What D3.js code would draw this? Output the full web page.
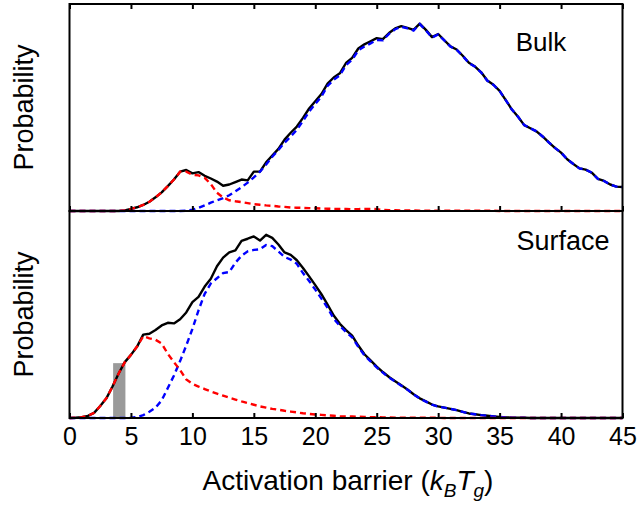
<!DOCTYPE html>
<html>
<head>
<meta charset="utf-8">
<script src="https://cdn.jsdelivr.net/npm/d3@7"></script>
<style>
  html, body { margin: 0; padding: 0; background: #fff; }
  svg { display: block; }
  text { font-family: "Liberation Sans", Arial, Helvetica, sans-serif; fill: #000; }
</style>
</head>
<body>
<svg id="chart" width="639" height="505"></svg>
<script>
// Activation barrier grid (k_B T_g), 0 to 45 in steps of 0.5
const barrier = d3.range(0, 45.001, 0.5);

// Bulk: total distribution and its two components
const bulkTotal = [
  0,0,0,0,0,0,0,0,0,0.003,
  0.01,0.018,0.029,0.045,0.066,0.09,0.12,0.152,0.19,0.198,
  0.182,0.188,0.17,0.157,0.142,0.122,0.128,0.14,0.152,0.148,
  0.19,0.19,0.235,0.268,0.3,0.345,0.378,0.408,0.45,0.495,
  0.53,0.565,0.615,0.645,0.665,0.715,0.74,0.785,0.805,0.82,
  0.835,0.83,0.86,0.882,0.893,0.885,0.875,0.905,0.875,0.84,
  0.855,0.825,0.795,0.78,0.75,0.716,0.698,0.67,0.63,0.61,
  0.58,0.536,0.49,0.455,0.415,0.4,0.385,0.36,0.332,0.305,
  0.282,0.25,0.227,0.206,0.2,0.185,0.155,0.145,0.128,0.118,
  0.116
];
const bulkFast = [
  0,0,0,0,0,0,0,0,0,0.003,
  0.01,0.018,0.029,0.045,0.066,0.09,0.12,0.152,0.19,0.19,
  0.175,0.172,0.16,0.13,0.088,0.065,0.052,0.047,0.043,0.038,
  0.033,0.03,0.027,0.025,0.022,0.02,0.017,0.016,0.015,0.014,
  0.013,0.012,0.011,0.01,0.01,0.01,0.009,0.009,0.01,0.01,
  0.009,0.005,0.004,0.004,0.003,0.003,0.003,0.002,0.002,0.002,
  0.002,0.002,0.001,0.001,0.001,0.001,0.001,0.001,0.001,0.001,
  0,0,0,0,0,0,0,0,0,0,
  0,0,0,0,0,0,0,0,0,0,
  0
];
const bulkSlow = [
  0,0,0,0,0,0,0,0,0,0,
  0,0,0,0,0,0,0,0,0,0.001,
  0.006,0.015,0.027,0.04,0.052,0.062,0.076,0.095,0.115,0.137,
  0.162,0.19,0.225,0.262,0.295,0.33,0.36,0.392,0.435,0.48,
  0.517,0.553,0.604,0.634,0.655,0.705,0.731,0.776,0.795,0.81,
  0.826,0.825,0.856,0.878,0.89,0.882,0.872,0.903,0.873,0.838,
  0.853,0.824,0.794,0.779,0.749,0.715,0.697,0.669,0.629,0.609,
  0.58,0.536,0.49,0.455,0.415,0.4,0.385,0.36,0.332,0.305,
  0.282,0.25,0.227,0.206,0.2,0.185,0.155,0.145,0.128,0.118,
  0.116
];

// Surface: total distribution and its two components
const surfTotal = [
  0,0.001,0.004,0.01,0.025,0.058,0.095,0.152,0.215,0.27,
  0.305,0.345,0.403,0.407,0.425,0.447,0.46,0.457,0.477,0.51,
  0.56,0.585,0.635,0.673,0.733,0.775,0.8,0.81,0.856,0.866,
  0.877,0.857,0.885,0.87,0.838,0.8,0.788,0.762,0.725,0.684,
  0.642,0.598,0.548,0.495,0.455,0.425,0.398,0.35,0.308,0.278,
  0.248,0.222,0.198,0.178,0.158,0.138,0.115,0.095,0.08,0.065,
  0.056,0.05,0.044,0.038,0.03,0.022,0.018,0.014,0.011,0.008,
  0.005,0.003,0.002,0.001,0.001,0,0,0,0,0,
  0,0,0,0,0,0,0,0,0,0,
  0
];
const surfFast = [
  0,0.001,0.004,0.01,0.025,0.058,0.095,0.152,0.215,0.27,
  0.305,0.345,0.395,0.385,0.378,0.36,0.31,0.27,0.232,0.186,
  0.165,0.152,0.14,0.128,0.118,0.108,0.098,0.089,0.08,0.072,
  0.064,0.056,0.05,0.044,0.04,0.035,0.031,0.027,0.023,0.02,
  0.017,0.015,0.013,0.011,0.009,0.008,0.007,0.006,0.005,0.004,
  0.004,0.003,0.003,0.002,0.002,0.001,0.001,0.001,0.001,0.001,
  0.001,0,0,0,0,0,0,0,0,0,
  0,0,0,0,0,0,0,0,0,0,
  0,0,0,0,0,0,0,0,0,0,
  0
];
const surfSlow = [
  0,0,0,0,0,0,0,0,0,0,
  0.001,0.005,0.014,0.03,0.05,0.085,0.145,0.205,0.275,0.35,
  0.43,0.52,0.6,0.65,0.675,0.7,0.705,0.75,0.784,0.805,
  0.812,0.815,0.836,0.83,0.805,0.778,0.765,0.745,0.7,0.662,
  0.62,0.577,0.532,0.48,0.445,0.415,0.39,0.344,0.303,0.274,
  0.244,0.219,0.195,0.176,0.156,0.137,0.114,0.094,0.079,0.064,
  0.055,0.05,0.044,0.038,0.03,0.022,0.018,0.014,0.011,0.008,
  0.005,0.003,0.002,0.001,0.001,0,0,0,0,0,
  0,0,0,0,0,0,0,0,0,0,
  0
];

// Highlighted barrier interval in the surface panel
const bandRange = [3.55, 4.55];
const bandHeight = 0.265;

const xTicks = [0, 5, 10, 15, 20, 25, 30, 35, 40, 45];
const panelNames = ["Bulk", "Surface"];

const svg = d3.select("#chart");
const plotLeft = 69.5, plotRight = 622.5, plotTop = 4, plotMid = 211, plotBottom = 418;

const x = d3.scaleLinear().domain([0, 45]).range([plotLeft, plotRight]);
const yTop = d3.scaleLinear().domain([0, 1]).range([plotMid, plotTop]);
const yBot = d3.scaleLinear().domain([0, 1]).range([plotBottom, plotMid]);

function drawPanel(y, total, fast, slow, ticksTop) {
  const g = svg.append("g");
  const line = d3.line().x((d, i) => x(barrier[i])).y(d => y(d));

  g.append("path").datum(total).attr("d", line)
    .attr("fill", "none").attr("stroke", "#000").attr("stroke-width", 2.4)
    .attr("stroke-linejoin", "round");
  g.append("path").datum(slow).attr("d", line)
    .attr("fill", "none").attr("stroke", "#0000ff").attr("stroke-width", 2.4)
    .attr("stroke-dasharray", "6,4");
  g.append("path").datum(fast).attr("d", line)
    .attr("fill", "none").attr("stroke", "#ff0000").attr("stroke-width", 2.4)
    .attr("stroke-dasharray", "6,4");

  const [y0, y1] = y.range();
  // inward ticks along the bottom edge
  g.append("g").attr("transform", `translate(0,${y0})`)
    .call(d3.axisBottom(x).tickValues(xTicks).tickSizeInner(-5).tickSizeOuter(0).tickFormat(""))
    .call(a => a.select(".domain").remove())
    .call(a => a.selectAll("line").attr("stroke-width", 2));
  if (ticksTop) {
    g.append("g").attr("transform", `translate(0,${y1})`)
      .call(d3.axisTop(x).tickValues(xTicks).tickSizeInner(-5).tickSizeOuter(0).tickFormat(""))
      .call(a => a.select(".domain").remove())
      .call(a => a.selectAll("line").attr("stroke-width", 2));
  }

  g.append("rect").attr("x", plotLeft).attr("y", y1)
    .attr("width", plotRight - plotLeft).attr("height", y0 - y1)
    .attr("fill", "none").attr("stroke", "#000").attr("stroke-width", 2);

  const cy = (y0 + y1) / 2;
  g.append("text").attr("x", 33).attr("y", cy)
    .attr("transform", `rotate(-90,33,${cy})`)
    .attr("text-anchor", "middle").style("font-size", "27px")
    .text("Probability");

  return g;
}

// Shaded band under the surface curve (drawn first so the lines sit on top)
svg.append("rect")
  .attr("x", x(bandRange[0])).attr("y", yBot(bandHeight))
  .attr("width", x(bandRange[1]) - x(bandRange[0]))
  .attr("height", yBot(0) - yBot(bandHeight))
  .attr("fill", "#9a9a9a");

drawPanel(yTop, bulkTotal, bulkFast, bulkSlow, true);
drawPanel(yBot, surfTotal, surfFast, surfSlow, false);

svg.append("text").attr("x", 541).attr("y", 51).attr("text-anchor", "middle")
  .style("font-size", "26px").text(panelNames[0]);
svg.append("text").attr("x", 563).attr("y", 250).attr("text-anchor", "middle")
  .style("font-size", "27px").text(panelNames[1]);

// Tick labels
svg.append("g").attr("transform", `translate(0,${plotBottom})`)
  .call(d3.axisBottom(x).tickValues(xTicks).tickSize(0))
  .call(a => a.select(".domain").remove())
  .call(a => a.selectAll("text").attr("dy", null).attr("y", 27)
    .attr("fill", "#000")
    .style("font-size", "25px")
    .style("font-family", '"Liberation Sans", Arial, sans-serif'));

// Axis title with italic subscripts
const xl = svg.append("text").attr("x", 348).attr("y", 490)
  .attr("text-anchor", "middle").style("font-size", "28px");
xl.append("tspan").text("Activation barrier (");
xl.append("tspan").style("font-style", "italic").text("k");
xl.append("tspan").style("font-style", "italic").style("font-size", "19px").attr("dy", 7).text("B");
xl.append("tspan").style("font-style", "italic").attr("dy", -7).text("T");
xl.append("tspan").style("font-style", "italic").style("font-size", "19px").attr("dy", 7).text("g");
xl.append("tspan").attr("dy", -7).text(")");
</script>
</body>
</html>
